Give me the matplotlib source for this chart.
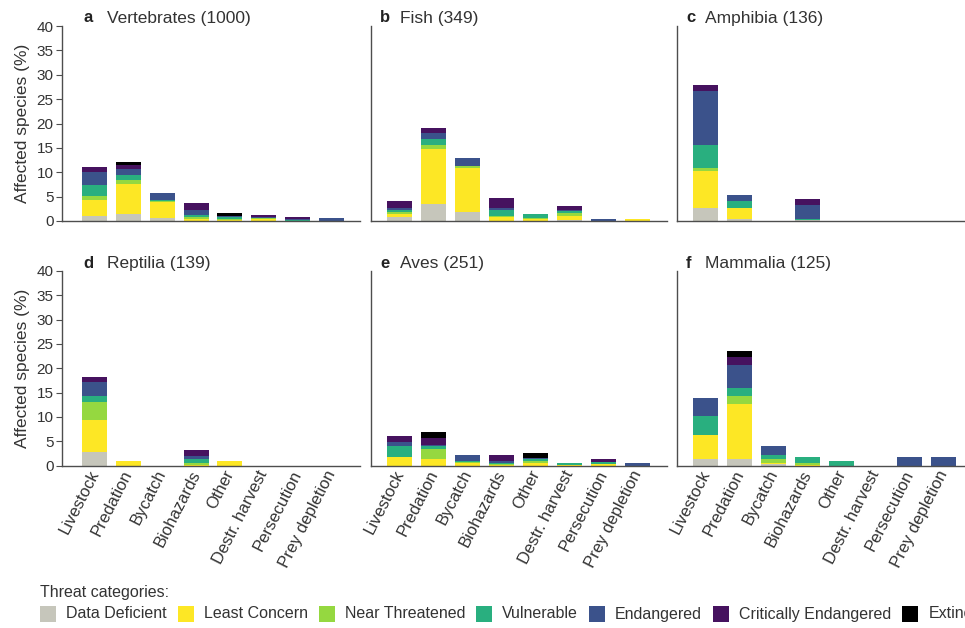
import matplotlib
matplotlib.use("Agg")
import matplotlib.pyplot as plt
from matplotlib.patches import Rectangle
import numpy as np

plt.rcParams['font.family'] = ['Liberation Sans', 'DejaVu Sans']

threats = ['Livestock', 'Predation', 'Bycatch', 'Biohazards', 'Other',
           'Destr. harvest', 'Persecution', 'Prey depletion']
categories = ['Data Deficient', 'Least Concern', 'Near Threatened', 'Vulnerable',
              'Endangered', 'Critically Endangered', 'Extinct']
colors = ['#c6c6bb', '#fde725', '#95d840', '#29af7f', '#3b528b', '#46125f', '#000000']

panel_letters = ['a', 'b', 'c', 'd', 'e', 'f']
panel_names = ['Vertebrates (1000)', 'Fish (349)', 'Amphibia (136)',
               'Reptilia (139)', 'Aves (251)', 'Mammalia (125)']

# rows: threat categories (DD, LC, NT, VU, EN, CR, EX); columns: threats
vertebrates = [
    [1.0, 1.5, 0.6, 0.1, 0.0, 0.0, 0.0, 0.0],
    [3.4, 6.0, 3.4, 0.4, 0.3, 0.4, 0.1, 0.0],
    [0.8, 1.0, 0.2, 0.25, 0.2, 0.2, 0.0, 0.0],
    [2.1, 1.0, 0.1, 0.55, 0.3, 0.1, 0.1, 0.05],
    [2.7, 1.1, 1.4, 0.9, 0.2, 0.2, 0.3, 0.5],
    [1.1, 0.8, 0.0, 1.4, 0.1, 0.35, 0.35, 0.05],
    [0.0, 0.8, 0.0, 0.0, 0.45, 0.0, 0.0, 0.0],
]
fish = [
    [0.9, 3.5, 1.75, 0.0, 0.0, 0.15, 0.0, 0.0],
    [0.5, 11.3, 9.05, 0.9, 0.5, 0.9, 0.0, 0.35],
    [0.35, 0.7, 0.5, 0.2, 0.1, 0.5, 0.0, 0.0],
    [0.45, 1.4, 0.0, 1.1, 0.9, 0.4, 0.0, 0.0],
    [0.45, 1.1, 1.6, 0.45, 0.0, 0.3, 0.4, 0.0],
    [1.45, 1.0, 0.0, 2.1, 0.0, 0.75, 0.0, 0.0],
    [0.0, 0.0, 0.0, 0.0, 0.0, 0.0, 0.0, 0.0],
]
amphibia = [
    [2.65, 0.4, 0.0, 0.3, 0.0, 0.0, 0.0, 0.0],
    [7.55, 2.25, 0.0, 0.0, 0.0, 0.0, 0.0, 0.0],
    [0.7, 0.0, 0.0, 0.0, 0.0, 0.0, 0.0, 0.0],
    [4.6, 1.55, 0.0, 0.1, 0.0, 0.0, 0.0, 0.0],
    [11.2, 1.2, 0.0, 2.9, 0.0, 0.0, 0.0, 0.0],
    [1.1, 0.0, 0.0, 1.2, 0.0, 0.0, 0.0, 0.0],
    [0.0, 0.0, 0.0, 0.0, 0.0, 0.0, 0.0, 0.0],
]
reptilia = [
    [2.75, 0.0, 0.0, 0.0, 0.0, 0.0, 0.0, 0.0],
    [6.55, 1.0, 0.0, 0.2, 1.0, 0.0, 0.0, 0.0],
    [3.7, 0.0, 0.0, 0.35, 0.0, 0.0, 0.0, 0.0],
    [1.3, 0.0, 0.0, 0.85, 0.0, 0.0, 0.0, 0.0],
    [2.9, 0.0, 0.0, 0.5, 0.0, 0.0, 0.0, 0.0],
    [1.1, 0.0, 0.0, 1.2, 0.0, 0.0, 0.0, 0.0],
    [0.0, 0.0, 0.0, 0.0, 0.0, 0.0, 0.0, 0.0],
]
aves = [
    [0.0, 0.0, 0.0, 0.0, 0.0, 0.0, 0.0, 0.0],
    [1.7, 1.4, 0.5, 0.2, 0.5, 0.1, 0.3, 0.0],
    [0.1, 1.9, 0.25, 0.1, 0.4, 0.0, 0.1, 0.0],
    [2.3, 0.8, 0.15, 0.3, 0.35, 0.5, 0.25, 0.0],
    [0.7, 0.2, 1.2, 0.3, 0.35, 0.0, 0.0, 0.6],
    [1.3, 1.4, 0.0, 1.2, 0.0, 0.0, 0.65, 0.0],
    [0.0, 1.2, 0.0, 0.0, 0.95, 0.0, 0.0, 0.0],
]
mammalia = [
    [1.4, 1.4, 0.3, 0.0, 0.0, 0.0, 0.0, 0.0],
    [4.8, 11.3, 0.3, 0.1, 0.0, 0.0, 0.0, 0.0],
    [0.0, 1.6, 0.8, 0.4, 0.0, 0.0, 0.0, 0.0],
    [4.0, 1.6, 0.8, 1.3, 1.0, 0.0, 0.0, 0.0],
    [3.7, 4.8, 1.9, 0.0, 0.0, 0.0, 1.8, 1.8],
    [0.0, 1.6, 0.0, 0.0, 0.0, 0.0, 0.0, 0.0],
    [0.0, 1.2, 0.0, 0.0, 0.0, 0.0, 0.0, 0.0],
]
panel_data = [vertebrates, fish, amphibia, reptilia, aves, mammalia]

W, H = 965, 628
fig = plt.figure(figsize=(W / 100, H / 100), dpi=100)

TEXT = '#333333'
SPINE = '#4d4d4d'


def px_axes(left, top, width, height):
    return fig.add_axes([left / W, 1 - (top + height) / H, width / W, height / H])


col_left = [62, 371, 677]
col_xlim = [(-0.97, 7.85), (-0.85, 7.85), (-0.85, 7.85)]
col_unit = [33.8, 34.0, 34.0]
row_top = [26, 271]
row_height = [195, 194.5]
letter_x = [83, 380, 686]
name_x = [107, 400, 705]

x = np.arange(len(threats))

for i, data in enumerate(panel_data):
    r, c = divmod(i, 3)
    lo, hi = col_xlim[c]
    ax = px_axes(col_left[c], row_top[r], (hi - lo) * col_unit[c], row_height[r])
    vals = np.array(data, dtype=float)
    bottom = np.zeros(len(threats))
    for k, cat in enumerate(categories):
        ax.bar(x, vals[k], bottom=bottom, width=0.74, color=colors[k],
               linewidth=0, label=cat)
        bottom += vals[k]

    ax.set_xlim(lo, hi)
    ax.set_ylim(0, 40)
    ax.set_yticks(np.arange(0, 41, 5))
    ax.set_xticks(x)
    for side in ('top', 'right'):
        ax.spines[side].set_visible(False)
    for side in ('left', 'bottom'):
        ax.spines[side].set_color(SPINE)
        ax.spines[side].set_linewidth(1.0)
    ax.tick_params(axis='x', length=0)

    if c == 0:
        ax.tick_params(axis='y', labelsize=11, labelcolor=TEXT, color=SPINE,
                       length=4, width=0.8, pad=2)
        ax.set_ylabel('Affected species (%)', fontsize=12.5, color=TEXT)
        ax.yaxis.set_label_coords(-0.108, 0.5)
    else:
        ax.tick_params(axis='y', left=False, labelleft=False)

    if r == 0:
        ax.tick_params(axis='x', labelbottom=False)
    else:
        ax.set_xticklabels(threats, rotation=63, ha='right', va='center',
                           rotation_mode='anchor', fontsize=12, color=TEXT)
        ax.tick_params(axis='x', pad=4)

    ty = 1 - (row_top[r] - 8) / H
    fig.text(letter_x[c] / W, ty, panel_letters[i], fontsize=12, weight='bold',
             color='#222222', va='center')
    fig.text(name_x[c] / W, ty, panel_names[i], fontsize=12.5, color=TEXT, va='center')

# Legend row
fig.text(40 / W, 1 - 592 / H, 'Threat categories:', fontsize=11.5, color=TEXT, va='center')
renderer = fig.canvas.get_renderer()
lx = 40
for cat, col in zip(categories, colors):
    fig.patches.append(Rectangle((lx / W, (H - 622) / H), 16 / W, 16 / H,
                                 transform=fig.transFigure, facecolor=col,
                                 edgecolor='none'))
    t = fig.text((lx + 26) / W, 1 - 614 / H, cat, fontsize=11.5, color=TEXT, va='center')
    bb = t.get_window_extent(renderer)
    lx = bb.x1 + 11

fig.savefig('out.png', dpi=100)
